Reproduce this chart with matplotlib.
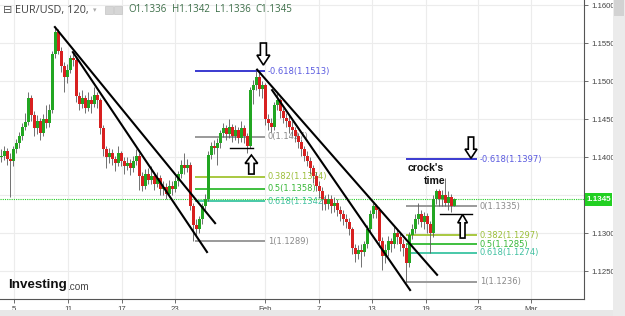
import numpy as np
import matplotlib
matplotlib.use("Agg")
from matplotlib import pyplot as plt
from matplotlib.patches import FancyArrow, Rectangle

# EUR/USD 120 candles
closes = [1.1402, 1.1408, 1.1398, 1.1395, 1.1410, 1.1418, 1.1428, 1.1440, 1.1446, 1.1478,
          1.1455, 1.1438, 1.1448, 1.1432, 1.1450, 1.1445, 1.1462, 1.1535, 1.1565, 1.1540,
          1.1520, 1.1505, 1.1515, 1.1530, 1.1528, 1.1480, 1.1470, 1.1478, 1.1465, 1.1475,
          1.1470, 1.1482, 1.1475, 1.1438, 1.1410, 1.1400, 1.1405, 1.1398, 1.1392, 1.1405,
          1.1395, 1.1388, 1.1392, 1.1385, 1.1395, 1.1402, 1.1375, 1.1362, 1.1378, 1.1370,
          1.1375, 1.1365, 1.1372, 1.1358, 1.1360, 1.1352, 1.1362, 1.1358, 1.1368, 1.1378,
          1.1390, 1.1385, 1.1390, 1.1335, 1.1310, 1.1305, 1.1318, 1.1335, 1.1345, 1.1403,
          1.1415, 1.1412, 1.1418, 1.1432, 1.1438, 1.1430, 1.1440, 1.1428, 1.1435, 1.1425,
          1.1438, 1.1428, 1.1415, 1.1488, 1.1495, 1.1505, 1.1490, 1.1495, 1.1450, 1.1445,
          1.1440, 1.1468, 1.1475, 1.1460, 1.1452, 1.1448, 1.1440, 1.1435, 1.1428, 1.1420,
          1.1410, 1.1402, 1.1395, 1.1385, 1.1375, 1.1362, 1.1355, 1.1345, 1.1338, 1.1345,
          1.1335, 1.1340, 1.1330, 1.1325, 1.1318, 1.1315, 1.1305, 1.1280, 1.1272, 1.1278,
          1.1275, 1.1285, 1.1305, 1.1325, 1.1335, 1.1330, 1.1290, 1.1270, 1.1278, 1.1290,
          1.1285, 1.1300, 1.1295, 1.1285, 1.1280, 1.1260, 1.1298, 1.1305, 1.1318, 1.1325,
          1.1315, 1.1322, 1.1312, 1.1300, 1.1345, 1.1355, 1.1345, 1.1350, 1.1340, 1.1348,
          1.1336, 1.1345]
highs = [1.1410, 1.1415, 1.1412, 1.1405, 1.1414, 1.1424, 1.1433, 1.1445, 1.1458, 1.1486,
         1.1482, 1.1460, 1.1455, 1.1452, 1.1456, 1.1468, 1.1470, 1.1540, 1.1570, 1.1568,
         1.1545, 1.1525, 1.1522, 1.1534, 1.1537, 1.1532, 1.1485, 1.1488, 1.1482, 1.1485,
         1.1480, 1.1492, 1.1486, 1.1478, 1.1442, 1.1415, 1.1412, 1.1410, 1.1402, 1.1415,
         1.1408, 1.1400, 1.1400, 1.1398, 1.1402, 1.1410, 1.1405, 1.1380, 1.1384, 1.1386,
         1.1388, 1.1380, 1.1380, 1.1376, 1.1368, 1.1366, 1.1370, 1.1368, 1.1375, 1.1382,
         1.1396, 1.1405, 1.1398, 1.1394, 1.1340, 1.1318, 1.1322, 1.1340, 1.1352, 1.1408,
         1.1420, 1.1422, 1.1425, 1.1436, 1.1445, 1.1442, 1.1450, 1.1444, 1.1442, 1.1440,
         1.1448, 1.1442, 1.1432, 1.1492, 1.1502, 1.1513, 1.1510, 1.1500, 1.1498, 1.1456,
         1.1452, 1.1472, 1.1484, 1.1478, 1.1465, 1.1458, 1.1455, 1.1448, 1.1440, 1.1432,
         1.1424, 1.1415, 1.1408, 1.1400, 1.1390, 1.1380, 1.1368, 1.1360, 1.1350, 1.1352,
         1.1350, 1.1347, 1.1345, 1.1336, 1.1330, 1.1325, 1.1320, 1.1308, 1.1285, 1.1284,
         1.1286, 1.1290, 1.1310, 1.1330, 1.1340, 1.1338, 1.1334, 1.1295, 1.1285, 1.1296,
         1.1294, 1.1310, 1.1305, 1.1300, 1.1292, 1.1286, 1.1302, 1.1312, 1.1325, 1.1339,
         1.1330, 1.1328, 1.1326, 1.1316, 1.1350, 1.1358, 1.1358, 1.1356, 1.1372, 1.1355,
         1.1352, 1.1346]
lows = [1.1393, 1.1396, 1.1390, 1.1347, 1.1388, 1.1405, 1.1412, 1.1422, 1.1436, 1.1442,
        1.1448, 1.1428, 1.1430, 1.1422, 1.1428, 1.1438, 1.1440, 1.1458, 1.1530, 1.1535,
        1.1512, 1.1486, 1.1498, 1.1510, 1.1520, 1.1472, 1.1462, 1.1465, 1.1458, 1.1460,
        1.1458, 1.1466, 1.1465, 1.1430, 1.1402, 1.1385, 1.1392, 1.1390, 1.1382, 1.1388,
        1.1388, 1.1378, 1.1383, 1.1376, 1.1380, 1.1390, 1.1357, 1.1355, 1.1358, 1.1364,
        1.1365, 1.1356, 1.1360, 1.1350, 1.1350, 1.1345, 1.1348, 1.1350, 1.1354, 1.1362,
        1.1372, 1.1378, 1.1380, 1.1330, 1.1289, 1.1296, 1.1300, 1.1312, 1.1330, 1.1342,
        1.1398, 1.1404, 1.1390, 1.1412, 1.1426, 1.1422, 1.1425, 1.1420, 1.1422, 1.1418,
        1.1420, 1.1418, 1.1405, 1.1412, 1.1470, 1.1488, 1.1480, 1.1478, 1.1442, 1.1436,
        1.1433, 1.1436, 1.1462, 1.1452, 1.1445, 1.1440, 1.1432, 1.1428, 1.1420, 1.1412,
        1.1402, 1.1395, 1.1388, 1.1378, 1.1366, 1.1355, 1.1346, 1.1330, 1.1330, 1.1332,
        1.1326, 1.1328, 1.1322, 1.1316, 1.1310, 1.1306, 1.1298, 1.1272, 1.1262, 1.1266,
        1.1255, 1.1270, 1.1280, 1.1300, 1.1320, 1.1320, 1.1282, 1.1251, 1.1260, 1.1270,
        1.1275, 1.1280, 1.1286, 1.1276, 1.1270, 1.1236, 1.1255, 1.1292, 1.1300, 1.1312,
        1.1308, 1.1305, 1.1300, 1.1274, 1.1295, 1.1338, 1.1335, 1.1336, 1.1335, 1.1330,
        1.1328, 1.1336]
first_open = 1.1400

tick_pos = [4.2, 22.2, 40.2, 57.8, 87.8, 105.8, 123.5, 141.5, 158.8, 176.5]
tick_labels = ['5', '11', '17', '23', 'Feb', '7', '13', '19', '23', 'Mar']

# fibonacci retracements
fib_levels = ['-0.618', '0', '0.382', '0.5', '0.618', '1']
fib_jan = [1.1513, 1.1427, 1.1374, 1.1358, 1.1342, 1.1289]
fib_feb = [1.1397, 1.1335, 1.1297, 1.1285, 1.1274, 1.1236]
fib_colors = ['#3a3ad0', '#9a9a9a', '#a8c840', '#3fbf3f', '#48c8a8', '#9a9a9a']
fib_text_colors = ['#5a5ae0', '#8a8a8a', '#9cbf3a', '#38b838', '#40c0a0', '#8a8a8a']

# trend lines (index, price) -> (index, price)
trend_lines = [((17.8, 1.1571), (71.2, 1.1313)),
               ((23.8, 1.1538), (68.5, 1.1275)),
               ((85.2, 1.1515), (145.2, 1.1245)),
               ((90.2, 1.1488), (136.2, 1.1225))]

last_price = 1.1345
W, H = 625, 316

opens = np.array([first_open] + closes[:-1])
closes = np.array(closes)
highs = np.array(highs)
lows = np.array(lows)
idx = np.arange(len(closes))
up = closes >= opens

fig = plt.figure(figsize=(W / 100, H / 100), dpi=100)
ax = fig.add_axes([0, 17 / H, 584 / W, 299 / H])

ax.set_xlim(-0.5, 194.17)
ax.set_ylim(1.12132, 1.16066)

# grid
for t in tick_pos:
    ax.axvline(t, color='#ececec', lw=0.8, zorder=0)
yt = np.arange(1.125, 1.1601, 0.005)
for p in yt:
    ax.axhline(p, color='#ececec', lw=0.8, zorder=0)

# fib lines
def draw_fib(x0, x1, prices):
    for lev, p, c, tc in zip(fib_levels, prices, fib_colors, fib_text_colors):
        ax.plot([x0, x1], [p, p], color=c, lw=1.4, zorder=1, solid_capstyle='butt')
        ax.text(x1 + 1.0, p, '%s(%.4f)' % (lev, p), color=tc, fontsize=6.0,
                family='DejaVu Sans', va='center', ha='left', zorder=1)

draw_fib(64.5, 87.8, fib_jan)
draw_fib(134.8, 158.5, fib_feb)

# current price dotted line
ax.axhline(last_price, color='#22cc22', lw=0.8, ls=(0, (1, 1)), zorder=1.5)

# candles
body_col = np.where(up, '#22a622', '#d82020')
ax.vlines(idx, lows, highs, color='#5a5a5a', lw=0.6, zorder=2)
bottoms = np.minimum(opens, closes)
heights = np.maximum(np.abs(closes - opens), 0.00005)
ax.bar(idx, heights, bottom=bottoms, width=0.72, color=body_col, edgecolor='none', zorder=3)

# trend lines
for (a, b) in trend_lines:
    ax.plot([a[0], b[0]], [a[1], b[1]], color='black', lw=1.5, zorder=4)

# short support lines
ax.plot([76.2, 83.8], [1.1412, 1.1412], color='black', lw=1.0, zorder=4)
ax.plot([146.2, 156.8], [1.1325, 1.1325], color='black', lw=1.0, zorder=4)

# hollow arrows
arrows = [(87.3, 1.1550, -0.0029, 2.0, 4.3, 0.0013),
          (156.5, 1.14263, -0.0028, 1.8, 4.0, 0.0012),
          (83.3, 1.13776, 0.0025, 1.8, 4.2, 0.0011),
          (153.7, 1.12934, 0.0031, 1.6, 3.2, 0.0011)]
for x, y, dy, w, hw, hl in arrows:
    ax.add_patch(FancyArrow(x, y, 0, dy, width=w, head_width=hw, head_length=hl,
                            length_includes_head=True, facecolor='white',
                            edgecolor='black', lw=1.2, zorder=5))

ax.text(135.5, 1.1386, "crock's", fontsize=7.6, fontweight='bold', family='Liberation Sans',
        color='#111111', ha='left', va='center', zorder=5)
ax.text(140.8, 1.1369, "time", fontsize=7.6, fontweight='bold', family='Liberation Sans',
        color='#111111', ha='left', va='center', zorder=5)

# axes styling
for s in ['top', 'left']:
    ax.spines[s].set_visible(False)
ax.spines['right'].set_color('#555555')
ax.spines['bottom'].set_color('#555555')
ax.spines['right'].set_linewidth(0.8)
ax.spines['bottom'].set_linewidth(0.8)
ax.yaxis.tick_right()
ax.set_yticks(yt)
# the 1.1350 label sits under the price box
ax.set_yticklabels(['' if abs(v - 1.135) < 1e-6 else '%.4f' % v for v in yt])
ax.set_xticks(tick_pos)
ax.set_xticklabels(tick_labels)
ax.tick_params(axis='y', length=3, width=0.6, color='#555555', labelsize=5.6,
               labelcolor='#444444', pad=2)
ax.tick_params(axis='x', length=3, width=0.6, color='#555555', labelsize=5.6,
               labelcolor='#444444', pad=2)
for lab in ax.get_xticklabels() + ax.get_yticklabels():
    lab.set_family('Liberation Sans')

# price box
fig.patches.append(Rectangle((585 / W, 1 - 206 / H), 27 / W, 13 / H, transform=fig.transFigure,
                             facecolor='#22d022', edgecolor='none', zorder=10))
fig.text(598.5 / W, 1 - 199.5 / H, '%.4f' % last_price, color='white', fontsize=5.8,
         fontweight='bold', family='Liberation Sans', ha='center', va='center', zorder=11)

# scroll bars
fig.patches.append(Rectangle((613 / W, 0), 12 / W, 1, transform=fig.transFigure,
                             facecolor='#ebebeb', edgecolor='none'))
fig.patches.append(Rectangle((614 / W, 1 - 16 / H), 10 / W, 16 / H, transform=fig.transFigure,
                             facecolor='#d2d2d2', edgecolor='none'))
fig.patches.append(Rectangle((0, 0), 613 / W, 6 / H, transform=fig.transFigure,
                             facecolor='#e8e8e8', edgecolor='none'))

# header
fig.text(3 / W, 1 - 10 / H, '\u229f', fontsize=8, color='#555555', family='DejaVu Sans',
         va='center', ha='left')
fig.text(15 / W, 1 - 10 / H, 'EUR/USD, 120,', fontsize=7.8, color='#444444',
         family='Open Sans', va='center', ha='left')
fig.text(93 / W, 1 - 10 / H, '\u25be', fontsize=5, color='#aaaaaa', family='DejaVu Sans',
         va='center', ha='left')
for x0 in [105, 114]:
    fig.patches.append(Rectangle((x0 / W, 1 - 14 / H), 8 / W, 8 / H, transform=fig.transFigure,
                                 facecolor='#d6d6d6', edgecolor='#c4c4c4', lw=0.5))
ohlc = ['O1.1336', 'H1.1342', 'L1.1336', 'C1.1345']
for x0, s in zip([128, 172, 215, 255], ohlc):
    fig.text(x0 / W, 1 - 10 / H, s, fontsize=7.0, color='#3c6e48', family='Open Sans',
             va='center', ha='left')

# logo
fig.text(8 / W, 1 - 285 / H, 'Investing', fontsize=9.6, fontweight='bold', color='#111111',
         family='Liberation Sans', va='center', ha='left')
fig.text(67 / W, 1 - 286.5 / H, '.com', fontsize=7.2, color='#444444',
         family='Liberation Sans', va='center', ha='left')

fig.savefig('out.png', dpi=100)
